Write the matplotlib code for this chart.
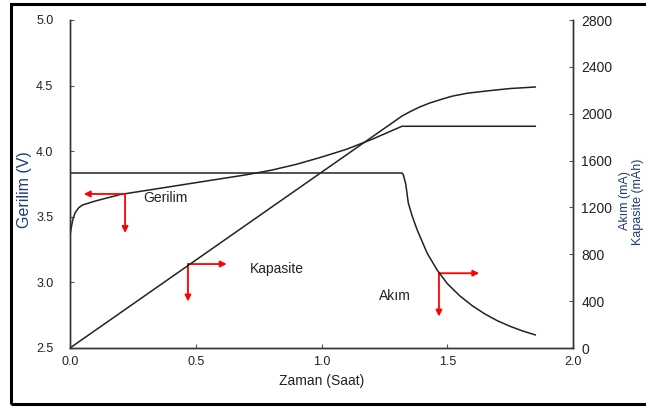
import matplotlib.pyplot as plt
from matplotlib.patches import Rectangle

plt.rcParams['font.family'] = ['Liberation Sans', 'DejaVu Sans']

# Gerilim (V) - zaman (saat)
t_gerilim = [0.0, 0.01, 0.02, 0.035, 0.05, 0.1, 0.2, 0.3, 0.4, 0.5, 0.6, 0.7,
             0.8, 0.9, 1.0, 1.1, 1.2, 1.32, 1.85]
gerilim = [3.36, 3.47, 3.53, 3.57, 3.59, 3.62, 3.67, 3.70, 3.73, 3.76, 3.79, 3.82,
           3.855, 3.90, 3.955, 4.015, 4.09, 4.19, 4.19]

# Akım (mA)
t_akim = [0.0, 1.32, 1.325, 1.335, 1.345, 1.36, 1.38, 1.40, 1.42, 1.46, 1.50,
          1.55, 1.60, 1.65, 1.70, 1.75, 1.80, 1.85]
akim = [1494, 1494, 1480, 1400, 1240, 1130, 1010, 910, 810, 665, 550,
        445, 360, 290, 232, 185, 145, 112]

# Kapasite (mAh)
t_kapasite = [0.0, 1.32, 1.35, 1.39, 1.43, 1.48, 1.52, 1.58, 1.66, 1.75, 1.85]
kapasite = [0, 1980, 2015, 2057, 2091, 2125, 2150, 2175, 2195, 2215, 2228]

# ok işaretleri: (köşe x, köşe y, yatay uç x, dikey uç y) - sol eksen birimleri
etiketler = ['Gerilim', 'Kapasite', 'Akım']
etiket_x = [0.378, 0.823, 1.292]
etiket_y = [3.64, 3.10, 2.90]
ok_x = [0.219, 0.469, 1.467]
ok_y = [3.674, 3.14, 3.07]
ok_yatay = [0.055, 0.623, 1.627]
ok_dikey = [3.377, 2.855, 2.74]

lacivert = '#1f3c78'
yazi = '#222222'

fig = plt.figure(figsize=(6.46, 4.08), dpi=100)
ax = fig.add_axes([70 / 646, 1 - 348 / 408, 503 / 646, 328 / 408])
ax2 = ax.twinx()

ax.plot(t_gerilim, gerilim, color='#222222', lw=1.1)
ax2.plot(t_akim, akim, color='#222222', lw=1.1)
ax2.plot(t_kapasite, kapasite, color='#222222', lw=1.1)

ax.set_xlim(0, 2.0)
ax.set_ylim(2.5, 5.0)
ax2.set_ylim(0, 2800)
ax.set_xticks([0.0, 0.5, 1.0, 1.5, 2.0])
ax.set_yticks([2.5, 3.0, 3.5, 4.0, 4.5, 5.0])
ax2.set_yticks(range(0, 2801, 400))
ax.xaxis.set_major_formatter(plt.FormatStrFormatter('%.1f'))
ax.yaxis.set_major_formatter(plt.FormatStrFormatter('%.1f'))

for a in (ax, ax2):
    a.spines['top'].set_visible(False)
    for s in a.spines.values():
        s.set_color('#333333')
        s.set_linewidth(1.0)
ax.tick_params(axis='both', direction='in', length=3, color='#555555',
               labelsize=9, labelcolor=yazi)
ax.tick_params(axis='y', pad=12)
ax.tick_params(axis='x', pad=6)
ax2.tick_params(axis='y', direction='in', length=3, color='#555555',
                labelsize=10, labelcolor=yazi, pad=6)

ax.set_xlabel('Zaman (Saat)', fontsize=10, color=yazi, labelpad=4)
fig.text(25 / 646, 1 - 190 / 408, 'Gerilim (V)', rotation=90, fontsize=11.5,
         color=lacivert, ha='center', va='center')

fig.text(625 / 646, 1 - 201 / 408, 'Akım (mA)', rotation=90, fontsize=9,
         color=lacivert, ha='center', va='center')
fig.text(638 / 646, 1 - 202 / 408, 'Kapasite (mAh)', rotation=90, fontsize=9,
         color=lacivert, ha='center', va='center')

# kırmızı oklar ve eğri adları
for i in range(3):
    ax.annotate('', xy=(ok_yatay[i], ok_y[i]), xytext=(ok_x[i], ok_y[i]),
                arrowprops=dict(arrowstyle='-|>', color='red', lw=1.3,
                                mutation_scale=9, shrinkA=0, shrinkB=0))
    ax.annotate('', xy=(ok_x[i], ok_dikey[i]), xytext=(ok_x[i], ok_y[i]),
                arrowprops=dict(arrowstyle='-|>', color='red', lw=1.3,
                                mutation_scale=9, shrinkA=0, shrinkB=0))
    ax.text(etiket_x[i], etiket_y[i], etiketler[i], fontsize=10, color=yazi,
            ha='center', va='center')

# dış çerçeve
fig.patches.append(Rectangle((10.5 / 646, 1 - 404 / 408), 660 / 646, 400 / 408,
                             transform=fig.transFigure, facecolor='none',
                             edgecolor='black', lw=2.2, zorder=10))

fig.savefig('out.png', dpi=100)
